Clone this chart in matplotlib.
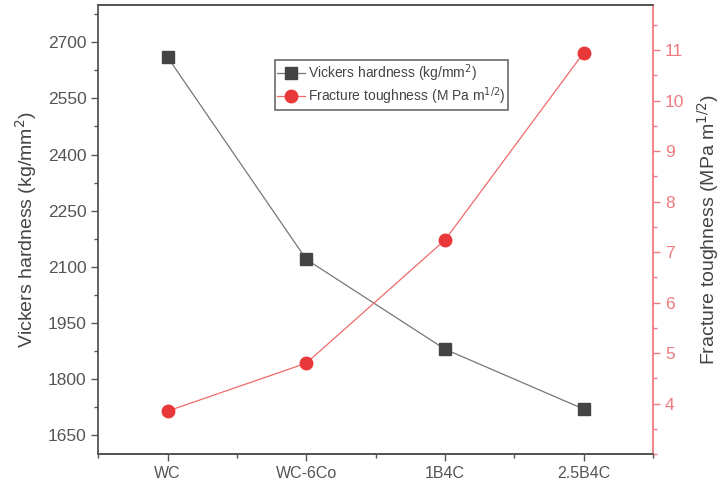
import numpy as np
import matplotlib
matplotlib.use("Agg")
import matplotlib.pyplot as plt
from matplotlib.ticker import MultipleLocator

plt.rcParams['font.family'] = ['Liberation Sans', 'DejaVu Sans']

samples = ['WC', 'WC-6Co', '1B4C', '2.5B4C']
hardness = [2660, 2120, 1880, 1720]
toughness = [3.85, 4.80, 7.24, 10.95]

grey = '#555555'
red = '#e8383a'
red_axis = '#f07a80'

fig = plt.figure(figsize=(7.28, 4.84), dpi=100)
ax = fig.add_axes([0.135, 0.062, 0.762, 0.928])
ax2 = ax.twinx()

x = np.arange(len(samples))
l1, = ax.plot(x, hardness, color='#777777', lw=0.9, marker='s', ms=8,
              mfc='#444444', mec='#444444', label='Vickers hardness (kg/mm$^2$)')
l2, = ax2.plot(x, toughness, color='#f06a6a', lw=0.9, marker='o', ms=9,
               mfc=red, mec=red, label='Fracture toughness (M Pa m$^{1/2}$)')

ax.set_xlim(-0.5, 3.5)
ax.set_ylim(1600, 2800)
ax2.set_ylim(3.0, 11.9)

ax.set_xticks(x)
ax.set_xticklabels(samples)
ax.xaxis.set_minor_locator(MultipleLocator(0.5))
ax.set_yticks(np.arange(1650, 2701, 150))
ax.yaxis.set_minor_locator(MultipleLocator(75))
ax2.set_yticks(np.arange(4, 12, 1))
ax2.yaxis.set_minor_locator(MultipleLocator(0.5))

ax.tick_params(axis='both', which='major', direction='out', length=5, width=1,
               colors=grey, labelsize=11.5, labelcolor=grey)
ax.tick_params(axis='y', labelsize=12.5)
ax.tick_params(axis='both', which='minor', direction='out', length=3, width=1, colors=grey)
ax2.tick_params(axis='y', which='major', direction='out', length=5, width=1,
                colors=red_axis, labelsize=12.5, labelcolor=red_axis)
ax2.tick_params(axis='y', which='minor', direction='out', length=3, width=1, colors=red_axis)

for s in ['left', 'bottom', 'top']:
    ax.spines[s].set_color(grey)
    ax.spines[s].set_linewidth(1.3)
ax2.spines['right'].set_color(red_axis)
ax2.spines['right'].set_linewidth(1.3)
ax2.spines['left'].set_visible(False)
ax2.spines['top'].set_color(grey)
ax2.spines['top'].set_linewidth(1.3)
ax2.spines['bottom'].set_color(grey)
ax2.spines['bottom'].set_linewidth(1.3)
ax.spines['right'].set_visible(False)

ax.set_ylabel('Vickers hardness (kg/mm$^2$)', fontsize=14, color='#444444', labelpad=6)
ax2.set_ylabel('Fracture toughness (MPa m$^{1/2}$)', fontsize=14, color='#444444', labelpad=8)

leg = ax.legend([l1, l2], [l1.get_label(), l2.get_label()], loc='upper left',
                bbox_to_anchor=(0.318, 0.878), fontsize=10, frameon=True,
                fancybox=False, edgecolor='#444444', handlelength=2.0,
                handletextpad=0.2, borderpad=0.2, labelspacing=0.1,
                borderaxespad=0)
leg.get_frame().set_linewidth(1.2)
for t in leg.get_texts():
    t.set_color('#444444')

fig.savefig('out.png', dpi=100)
